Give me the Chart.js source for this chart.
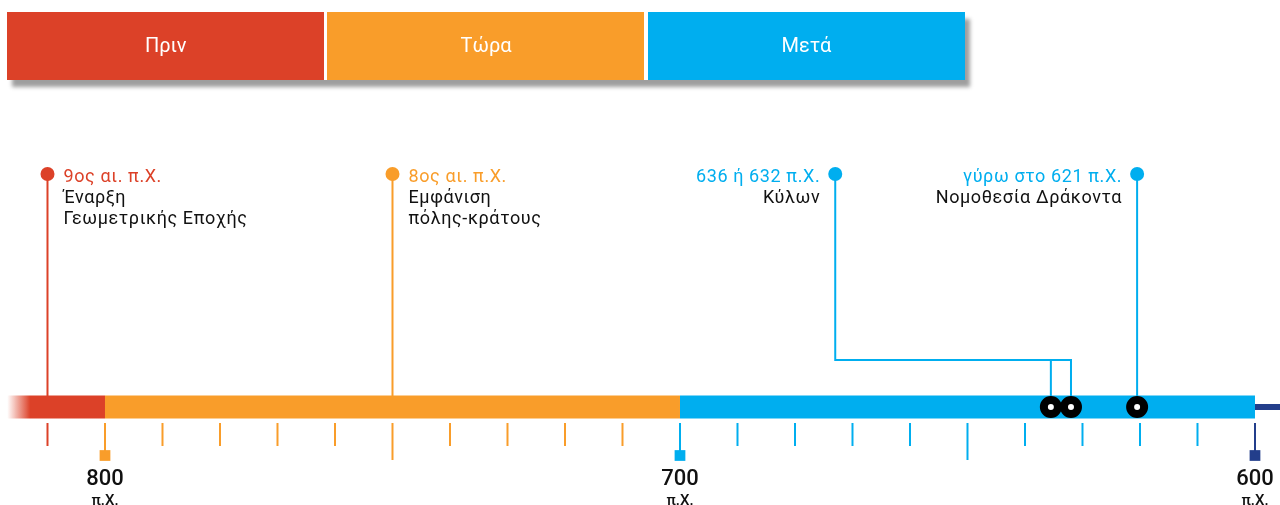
<!DOCTYPE html>
<html lang="el">
<head>
<meta charset="utf-8">
<title>Χρονολόγιο</title>
<script src="https://cdn.jsdelivr.net/npm/chart.js"></script>
<style>
    html, body { margin: 0; padding: 0; background: #fff; }
    #timeline { display: block; }
</style>
</head>
<body>
<canvas id="timeline" width="1280" height="505"></canvas>
<script>
// Eras, in years BC (bigger number = earlier)
const eraNames = ['Πριν', 'Τώρα', 'Μετά'];
const eraStart = [818, 800, 700];
const eraEnd = [800, 700, 600];

// Axis
const tickYears = [810, 800, 790, 780, 770, 760, 750, 740, 730, 720, 710, 700,
                   690, 680, 670, 660, 650, 640, 630, 620, 610, 600];
const labelYears = [800, 700, 600];
const midYears = [750, 650];
const labelSuffix = 'π.Χ.';

// Events: where the pin stands, its texts, and the dates it points to on the bar
const eventPins = [810, 750, 673, 620.5];
const eventDates = ['9ος αι. π.Χ.', '8ος αι. π.Χ.', '636 ή 632 π.Χ.', 'γύρω στο 621 π.Χ.'];
const eventTitles = [['Έναρξη', 'Γεωμετρικής Εποχής'], ['Εμφάνιση', 'πόλης-κράτους'], ['Κύλων'], ['Νομοθεσία Δράκοντα']];
const eventMarkers = [[], [], [635.5, 632], [620.5]];

// Look
var ERA_COLORS = ['#DC4128', '#F99D2A', '#00AEEF'];
var NAVY = '#233E8B';
var FONT = 'Roboto, "Noto Sans", sans-serif';

// Rows (the y scale runs 0..505 top to bottom)
var PIN_Y = 174, ELBOW_Y = 360, BAR_Y = 407, TICK_TOP = 423;

function eraOf(year) {
    for (var i = 0; i < eraStart.length; i++) {
        if (eraStart[i] >= year && year > eraEnd[i]) return i;
    }
    return -1;
}
function colorOf(year) {
    var i = eraOf(year);
    return i < 0 ? NAVY : ERA_COLORS[i];
}

function tickBottom(year) {
    if (labelYears.indexOf(year) >= 0) return 451;
    if (midYears.indexOf(year) >= 0) return 460;
    return 446;
}

var datasets = [];

// circles on the bar
var markerPoints = [];
eventMarkers.forEach(function(list) {
    list.forEach(function(y) { markerPoints.push({ x: y, y: BAR_Y }); });
});
datasets.push({
    data: markerPoints, order: 0,
    pointRadius: 7, pointBorderWidth: 8,
    pointBackgroundColor: '#fff', pointBorderColor: '#000'
});

// heads of the pins
datasets.push({
    data: eventPins.map(function(y) { return { x: y, y: PIN_Y }; }), order: 1,
    pointRadius: 7, pointBorderWidth: 0,
    pointBackgroundColor: eventPins.map(colorOf)
});

// the bar itself, one stroke per era
eraNames.forEach(function(name, i) {
    datasets.push({
        data: [{ x: eraStart[i], y: BAR_Y }, { x: eraEnd[i], y: BAR_Y }], order: 2,
        showLine: true, borderWidth: 23, pointRadius: 0,
        borderColor: i > 0 ? ERA_COLORS[i] : function(ctx) {
            var chart = ctx.chart, xs = chart.scales.x;
            if (!xs || !chart.chartArea) return ERA_COLORS[0];
            var g = chart.ctx.createLinearGradient(xs.getPixelForValue(817), 0, xs.getPixelForValue(813), 0);
            g.addColorStop(0, 'rgba(220,65,40,0)');
            g.addColorStop(1, 'rgba(220,65,40,1)');
            return g;
        }
    });
});
// thin tail after the last era
datasets.push({
    data: [{ x: eraEnd[eraEnd.length - 1], y: BAR_Y }, { x: 590, y: BAR_Y }], order: 2,
    showLine: true, borderWidth: 6, borderColor: NAVY, pointRadius: 0
});

// pin stems (with an elbow when the pin stands away from its dates)
eventPins.forEach(function(pin, i) {
    var col = colorOf(pin);
    var marks = eventMarkers[i];
    if (!marks.length || (marks.length === 1 && marks[0] === pin)) {
        datasets.push({
            data: [{ x: pin, y: PIN_Y }, { x: pin, y: BAR_Y }], order: 3,
            showLine: true, borderWidth: 2, borderColor: col, pointRadius: 0
        });
        return;
    }
    var far = Math.min.apply(null, marks);
    datasets.push({
        data: [{ x: pin, y: PIN_Y }, { x: pin, y: ELBOW_Y }, { x: far, y: ELBOW_Y }, { x: far, y: BAR_Y }], order: 3,
        showLine: true, borderWidth: 2, borderColor: col, pointRadius: 0
    });
    marks.forEach(function(m) {
        if (m === far) return;
        datasets.push({
            data: [{ x: m, y: ELBOW_Y }, { x: m, y: BAR_Y }], order: 3,
            showLine: true, borderWidth: 2, borderColor: col, pointRadius: 0
        });
    });
});

// tick marks
datasets.push({
    data: tickYears.map(function(y) { return { x: y, y: (TICK_TOP + tickBottom(y)) / 2 }; }), order: 4,
    pointStyle: 'line', rotation: 90, pointBorderWidth: 2,
    pointRadius: tickYears.map(function(y) { return (tickBottom(y) - TICK_TOP) / 2; }),
    pointBorderColor: tickYears.map(colorOf)
});
// squares under the labelled ticks
datasets.push({
    data: labelYears.map(function(y) { return { x: y, y: 455.5 }; }), order: 4,
    pointStyle: 'rect', pointRadius: 7.6, pointBorderWidth: 0,
    pointBackgroundColor: labelYears.map(colorOf)
});

var textPlugin = {
    id: 'texts',
    afterDraw: function(chart) {
        var ctx = chart.ctx, xs = chart.scales.x, ys = chart.scales.y;
        ctx.save();

        // era header with a drop shadow
        var left = 7, right = 965, gap = 3, top = 12, h = 68;
        var w = (right - left - gap * (eraNames.length - 1)) / eraNames.length;
        ctx.save();
        ctx.shadowColor = 'rgba(0,0,0,0.38)';
        ctx.shadowOffsetX = 5;
        ctx.shadowOffsetY = 7;
        ctx.shadowBlur = 4;
        ctx.fillStyle = '#fff';
        ctx.fillRect(left, top, right - left, h);
        ctx.restore();
        ctx.font = '20px ' + FONT;
        ctx.textAlign = 'center';
        ctx.textBaseline = 'middle';
        eraNames.forEach(function(name, i) {
            var x0 = left + i * (w + gap);
            ctx.fillStyle = ERA_COLORS[i];
            ctx.fillRect(Math.round(x0), top, Math.round(w), h);
            ctx.fillStyle = '#fff';
            ctx.fillText(name, x0 + w / 2, top + h / 2 + 1);
        });

        // event texts
        ctx.font = '18px ' + FONT;
        ctx.letterSpacing = '0.6px';
        ctx.textBaseline = 'middle';
        eventPins.forEach(function(pin, i) {
            var px = xs.getPixelForValue(pin);
            var onRight = eraOf(pin) < 2;
            ctx.textAlign = onRight ? 'left' : 'right';
            var tx = onRight ? px + 16 : px - 15;
            var y = ys.getPixelForValue(PIN_Y) + 3;
            ctx.fillStyle = colorOf(pin);
            ctx.fillText(eventDates[i], tx, y);
            ctx.fillStyle = '#111';
            eventTitles[i].forEach(function(line, k) {
                ctx.fillText(line, tx, y + 21 * (k + 1));
            });
        });
        ctx.letterSpacing = '0px';

        // axis labels
        ctx.textAlign = 'center';
        ctx.fillStyle = '#111';
        labelYears.forEach(function(y) {
            var px = xs.getPixelForValue(y);
            ctx.font = '500 22px ' + FONT;
            ctx.fillText(String(y), px, 479);
            ctx.font = '500 15px ' + FONT;
            ctx.fillText(labelSuffix, px, 501);
        });
        ctx.restore();
    }
};

new Chart(document.getElementById('timeline'), {
    type: 'scatter',
    data: { datasets: datasets },
    options: {
        responsive: false,
        animation: false,
        events: [],
        layout: { padding: 0, autoPadding: false },
        plugins: { legend: { display: false }, tooltip: { enabled: false } },
        scales: {
            x: { type: 'linear', reverse: true, min: 595.65, max: 818.26, bounds: 'data', display: false },
            y: { type: 'linear', reverse: true, min: 0, max: 505, bounds: 'data', display: false }
        }
    },
    plugins: [textPlugin]
});
</script>
</body>
</html>
